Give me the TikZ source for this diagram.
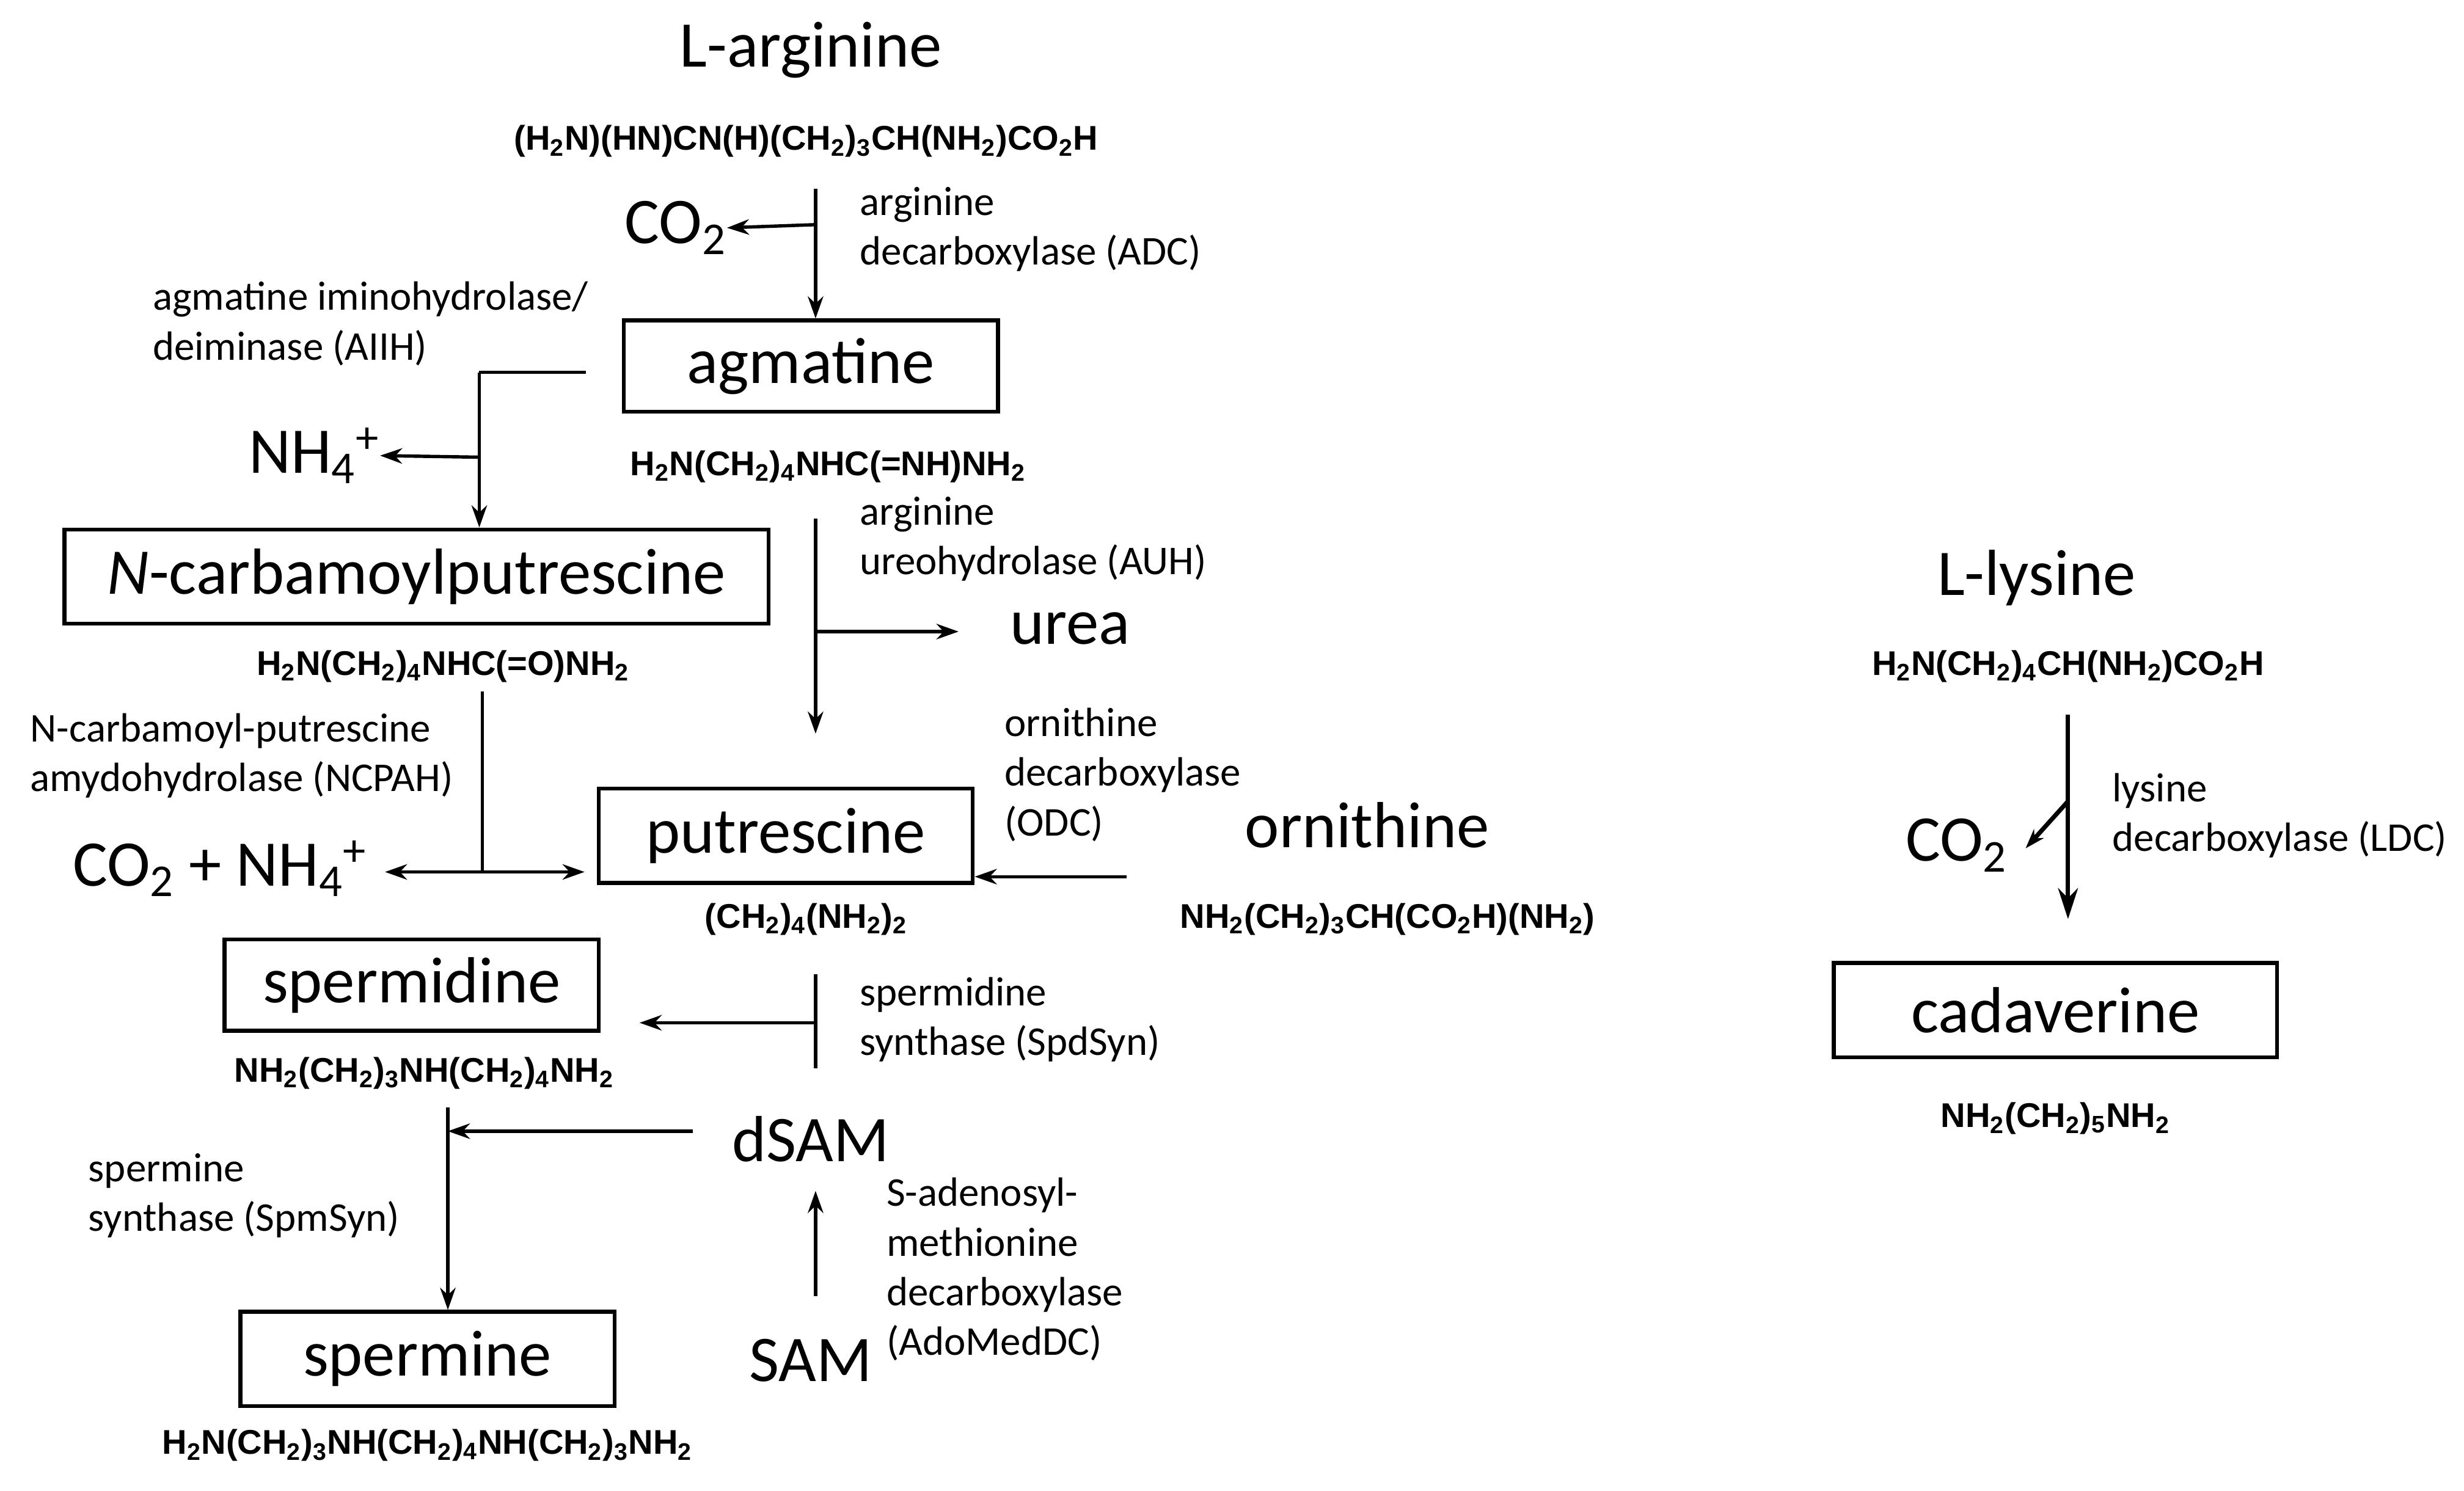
\documentclass[tikz,border=0pt]{standalone}
\usepackage{fontspec}
\setmainfont{Carlito}
\newfontfamily\arialf{Liberation Sans}
\usetikzlibrary{arrows.meta}
\newcommand{\sbx}[1]{\textsubscript{#1}}
\begin{document}
\begin{tikzpicture}[x=0.025cm,y=-0.025cm,
 big/.style={font=\fontsize{29.5}{34}\selectfont,inner sep=0},
 box/.style={draw,line width=1.8pt,minimum height=1.45cm,inner sep=0,font=\fontsize{29.5}{34}\selectfont},
 enz/.style={font=\fontsize{18.5}{22.5}\selectfont,align=left,anchor=west,inner sep=0},
 frm/.style={font=\arialf\fontsize{15.5}{18}\bfseries\selectfont,inner sep=0},
 ln/.style={line width=1.5pt},
 ar/.style={line width=1.5pt,-{Stealth[length=10pt,width=7pt]}}]
\useasboundingbox (0,0) rectangle (1568,949);
% arginine
\node[big] (arg) at (516,32) {L-arginine};
\node[frm] (argf) at (513,90) {(H\sbx{2}N)(HN)CN(H)(CH\sbx{2})\sbx{3}CH(NH\sbx{2})CO\sbx{2}H};
\node[big] (co2a) at (430,145) {CO\sbx{2}};
\node[enz] (adc) at (547,146) {arginine\\decarboxylase (ADC)};
\node[box,minimum width=5.95cm] (agm) at (516,233) {agmatine};
\coordinate (a1) at (519,120); \coordinate (a2) at (519,143);
\draw[ar] (a1) -- (agm.north -| a1);
\draw[ar] (a2) -- (co2a.east);
% AIIH
\node[enz] (aiih) at (97,206) {agmatine iminohydrolase/\\deiminase (AIIH)};
\node[big] (nh4a) at (200,290) {NH\sbx{4}\textsuperscript{+}};
\node[box,minimum width=11.2cm,minimum height=1.5cm] (ncp) at (265,367) {\textit{N}-carbamoylputrescine};
\coordinate (b1) at (373,237); \coordinate (b2) at (305,237); \coordinate (b3) at (305,291);
\draw[ln] (b1) -- (b2);
\draw[ar] (b2) -- (ncp.north -| b2);
\draw[ar] (b3) -- (nh4a.east);
\node[frm] (agmf) at (527,297) {H\sbx{2}N(CH\sbx{2})\sbx{4}NHC(=NH)NH\sbx{2}};
\node[frm] (ncpf) at (282,424) {H\sbx{2}N(CH\sbx{2})\sbx{4}NHC(=O)NH\sbx{2}};
% AUH
\node[enz] (auh) at (547,343) {arginine\\ureohydrolase (AUH)};
\node[big] (urea) at (681,400) {urea};
\node[box,minimum width=5.95cm,minimum height=1.5cm] (put) at (500,532) {putrescine};
\coordinate (c1) at (519,330); \coordinate (c2) at (519,402); \coordinate (c3) at (519,467);
\draw[ar] (c1) -- (c3);
\draw[ar] (c2) -- (610,402) coordinate (c4);
% NCPAH
\node[enz] (ncpah) at (19,481) {N-carbamoyl-putrescine\\amydohydrolase (NCPAH)};
\node[big] (co2nh) at (140,553) {CO\sbx{2} + NH\sbx{4}\textsuperscript{+}};
\coordinate (d1) at (307,440); \coordinate (d2) at (307,555);
\draw[ln] (d1) -- (d2);
\draw[ar] (d2) -- (245,555) coordinate (d3);
\draw[ar] (d2) -- (372,555) coordinate (d4);
% ornithine
\node[enz] (odc) at (639,493) {ornithine\\decarboxylase\\(ODC)};
\node[big] (orn) at (870,525) {ornithine};
\node[frm] (ornf) at (883,585) {NH\sbx{2}(CH\sbx{2})\sbx{3}CH(CO\sbx{2}H)(NH\sbx{2})};
\coordinate (e1) at (717,558);
\draw[ar] (e1) -- (e1 -| put.east);
\node[frm] (putf) at (513,585) {(CH\sbx{2})\sbx{4}(NH\sbx{2})\sbx{2}};
% spermidine
\node[box,minimum width=5.95cm] (spd) at (262,627) {spermidine};
\node[frm] (spdf) at (270,683) {NH\sbx{2}(CH\sbx{2})\sbx{3}NH(CH\sbx{2})\sbx{4}NH\sbx{2}};
\node[enz] (spdsyn) at (547,649) {spermidine\\synthase (SpdSyn)};
\coordinate (f1) at (519,620); \coordinate (f2) at (519,680); \coordinate (f3) at (519,651);
\draw[ln] (f1) -- (f2);
\draw[ar] (f3) -- (407,651) coordinate (f4);
% dSAM
\node[big] (dsam) at (516,725) {dSAM};
\coordinate (g1) at (441,720); \coordinate (g2) at (285,720); \coordinate (g0) at (285,705);
\draw[ar] (g1) -- (g2);
\node[box,minimum width=5.95cm,minimum height=1.5cm] (spm) at (272,865) {spermine};
\draw[ar] (g0) -- (spm.north -| g0);
\node[enz] (spmsyn) at (56,761) {spermine\\synthase (SpmSyn)};
\node[frm] (spmf) at (272,920) {H\sbx{2}N(CH\sbx{2})\sbx{3}NH(CH\sbx{2})\sbx{4}NH(CH\sbx{2})\sbx{3}NH\sbx{2}};
% SAM
\node[big] (sam) at (516,866) {SAM};
\coordinate (h1) at (519,825); \coordinate (h2) at (519,758);
\draw[ar] (h1) -- (h2);
\node[enz] (adomed) at (564,808) {S-adenosyl-\\methionine\\decarboxylase\\(AdoMedDC)};
% lysine
\node[big] (lys) at (1296,368) {L-lysine};
\node[frm] (lysf) at (1316,424) {H\sbx{2}N(CH\sbx{2})\sbx{4}CH(NH\sbx{2})CO\sbx{2}H};
\node[big] (co2b) at (1245,538) {CO\sbx{2}};
\node[box,minimum width=7.05cm,minimum height=1.5cm] (cad) at (1308,643) {cadaverine};
\coordinate (k1) at (1316,455); \coordinate (k2) at (1316,510);
\draw[line width=2pt,-{Stealth[length=14pt,width=9pt]}] (k1) -- (1316,585) coordinate (k3);
\draw[line width=2pt,-{Stealth[length=9pt,width=6pt]}] (k2) -- (1289,540) coordinate (k4);
\node[enz] (ldc) at (1344,519) {lysine\\decarboxylase (LDC)};
\node[frm] (cadf) at (1308,712) {NH\sbx{2}(CH\sbx{2})\sbx{5}NH\sbx{2}};
\end{tikzpicture}
\end{document}
